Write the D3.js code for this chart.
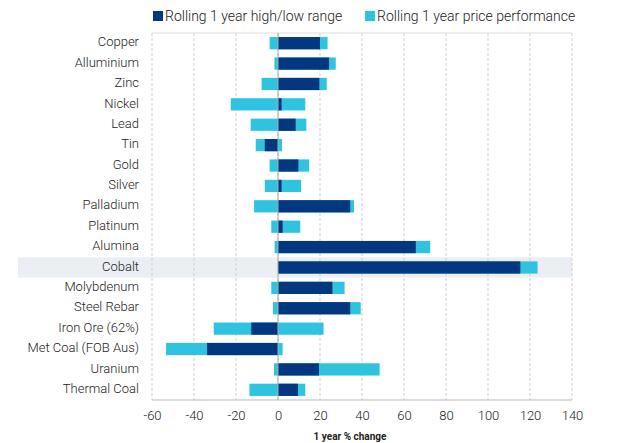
<!DOCTYPE html>
<html><head><meta charset="utf-8">
<script src="https://cdn.jsdelivr.net/npm/d3@7"></script>
<style>body{margin:0;background:#fff;font-family:Roboto,sans-serif}</style>
</head><body><svg id="c" width="640" height="443"></svg>
<script>
const categories = ["Copper","Alluminium","Zinc","Nickel","Lead","Tin","Gold","Silver","Palladium","Platinum","Alumina","Cobalt","Molybdenum","Steel Rebar","Iron Ore (62%)","Met Coal (FOB Aus)","Uranium","Thermal Coal"];
const rangeLow  = [-4,-1.7,-7.8,-22.5,-13,-10.6,-4,-6.3,-11.4,-3.2,-1.6,0,-3.2,-2.4,-30.6,-53.3,-1.9,-13.6];
const rangeHigh = [23.6,27.5,23.2,13,13.5,1.9,14.8,11,36.2,10.6,72.5,123.6,31.7,39.4,21.7,2.2,48.4,13];
const performance = [20,24.3,19.7,1.7,8.4,-6.3,9.7,1.7,34.4,2.2,65.6,115.4,25.9,34.4,-12.7,-33.8,19.5,9.5];
const xTicks = [-60,-40,-20,0,20,40,60,80,100,120,140];
const highlight = "Cobalt";
const legendLabels = ["Rolling 1 year high/low range","Rolling 1 year price performance"];

const dark = "#03377f", light = "#30c3e0";
const svg = d3.select("#c");
const m = {l:152, r:572, t:33, b:400};
const x = d3.scaleLinear().domain([-60,140]).range([m.l,m.r]);
const y = d3.scaleBand().domain(categories).range([m.t,m.b]).paddingInner(0.4).paddingOuter(0.2);
const yb = d3.scaleBand().domain(categories).range([m.t,m.b]);

// highlight band
svg.append("rect").attr("x",18).attr("y",yb(highlight)).attr("width",m.r-18).attr("height",yb.bandwidth()).attr("fill","#ebeef5");

// grid
svg.append("g").selectAll("line").data(xTicks).join("line")
  .attr("x1",d=>x(d)).attr("x2",d=>x(d)).attr("y1",m.t).attr("y2",m.b)
  .attr("stroke","#cfcfcf").attr("stroke-dasharray","3,2").attr("stroke-width",1);
svg.append("line").attr("x1",m.l).attr("x2",m.r).attr("y1",m.t).attr("y2",m.t).attr("stroke","#dcdcdc");
svg.append("line").attr("x1",m.l).attr("x2",m.r).attr("y1",m.b).attr("y2",m.b).attr("stroke","#cfcfcf").attr("stroke-width",1.5);

// bars
const rows = categories.map((c,i)=>({c,lo:rangeLow[i],hi:rangeHigh[i],p:performance[i]}));
svg.append("g").selectAll("rect").data(rows).join("rect")
  .attr("x",d=>x(d.lo)).attr("width",d=>x(d.hi)-x(d.lo))
  .attr("y",d=>y(d.c)).attr("height",y.bandwidth()).attr("fill",light);
svg.append("g").selectAll("rect").data(rows).join("rect")
  .attr("x",d=>x(Math.min(0,d.p))).attr("width",d=>Math.abs(x(d.p)-x(0)))
  .attr("y",d=>y(d.c)).attr("height",y.bandwidth()).attr("fill",dark);

// zero line
svg.append("line").attr("x1",x(0)).attr("x2",x(0)).attr("y1",m.t).attr("y2",m.b).attr("stroke","#aaa").attr("stroke-width",1);

// y labels
const ya = svg.append("g").attr("transform",`translate(${m.l},-1)`).call(d3.axisLeft(yb).tickSize(0).tickPadding(13));
ya.select(".domain").remove();
ya.selectAll("text").attr("font-family","Roboto").attr("font-weight",300).attr("font-size",13).attr("fill","#222");

// x axis
const xa = svg.append("g").attr("transform",`translate(0,${m.b})`).call(d3.axisBottom(x).tickValues(xTicks).tickFormat(d=>String(d)).tickSize(0).tickPadding(11));
xa.select(".domain").remove();
xa.selectAll("text").attr("font-family","Roboto").attr("font-weight",300).attr("font-size",13).attr("fill","#222");
svg.append("text").attr("x",350).attr("y",440).attr("text-anchor","middle")
  .attr("font-family","Roboto").attr("font-weight","bold").attr("font-size",10).attr("fill","#222").text("1 year % change");

// legend
const lg = svg.append("g");
[[153,dark,legendLabels[0]],[365,light,legendLabels[1]]].forEach(([lx,col,t])=>{
  lg.append("rect").attr("x",lx).attr("y",11).attr("width",10).attr("height",10).attr("fill",col);
  lg.append("text").attr("x",lx+12).attr("y",21).attr("font-family","Roboto").attr("font-weight",300).attr("font-size",14).attr("fill","#222").text(t);
});
</script></body></html>
